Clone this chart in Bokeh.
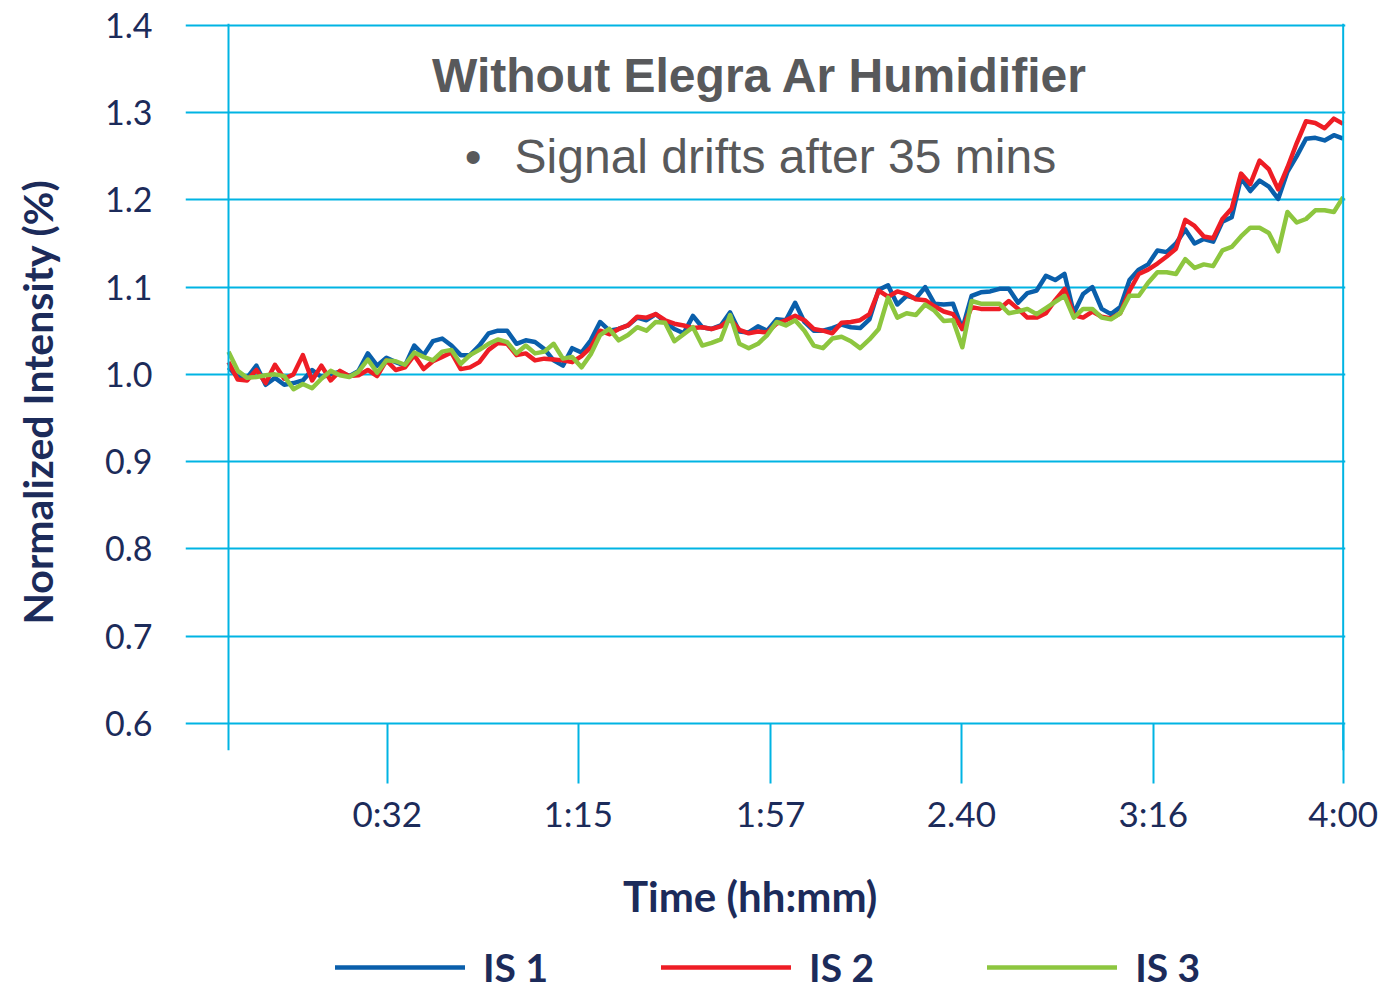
from bokeh.plotting import figure
from bokeh.layouts import column
from bokeh.models import Range1d, FixedTicker, Span, Label, Legend, LegendItem, NumeralTickFormatter
from bokeh.embed import file_html
from bokeh.resources import INLINE

# ---- data (minutes since start, normalized intensity) ----
minutes = list(range(0, 241, 2))

is1 = [1.008, 0.997, 0.996, 1.010, 0.988, 0.996, 0.988, 0.990, 0.993, 1.005,
       0.997, 1.000, 1.003, 0.998, 1.004, 1.024, 1.010, 1.019, 1.014, 1.010,
       1.033, 1.022, 1.038, 1.041, 1.033, 1.022, 1.022, 1.033, 1.047, 1.050,
       1.050, 1.035, 1.039, 1.037, 1.029, 1.016, 1.010, 1.030, 1.025, 1.039,
       1.060, 1.050, 1.052, 1.056, 1.065, 1.062, 1.069, 1.060, 1.052, 1.047,
       1.067, 1.054, 1.052, 1.056, 1.071, 1.049, 1.048, 1.055, 1.050, 1.063,
       1.062, 1.082, 1.060, 1.050, 1.050, 1.053, 1.057, 1.054, 1.053, 1.063,
       1.097, 1.102, 1.080, 1.090, 1.087, 1.100, 1.081, 1.080, 1.081, 1.052,
       1.090, 1.094, 1.095, 1.098, 1.098, 1.082, 1.093, 1.096, 1.113, 1.108,
       1.115, 1.070, 1.092, 1.100, 1.075, 1.069, 1.077, 1.108, 1.120, 1.126,
       1.142, 1.140, 1.150, 1.166, 1.150, 1.155, 1.152, 1.175, 1.180, 1.225,
       1.210, 1.222, 1.215, 1.201, 1.232, 1.250, 1.270, 1.271, 1.268, 1.274,
       1.270]

is2 = [1.014, 0.994, 0.993, 1.005, 0.990, 1.011, 0.995, 1.000, 1.022, 0.993,
       1.010, 0.993, 1.004, 0.998, 0.999, 1.005, 0.998, 1.016, 1.005, 1.008,
       1.022, 1.006, 1.015, 1.020, 1.025, 1.006, 1.008, 1.014, 1.028, 1.036,
       1.035, 1.022, 1.024, 1.016, 1.018, 1.017, 1.016, 1.014, 1.021, 1.031,
       1.050, 1.046, 1.052, 1.056, 1.066, 1.065, 1.069, 1.062, 1.058, 1.056,
       1.053, 1.054, 1.052, 1.055, 1.063, 1.051, 1.047, 1.049, 1.048, 1.058,
       1.062, 1.067, 1.062, 1.052, 1.050, 1.047, 1.059, 1.060, 1.062, 1.069,
       1.096, 1.089, 1.095, 1.092, 1.086, 1.085, 1.078, 1.072, 1.069, 1.052,
       1.077, 1.075, 1.075, 1.075, 1.084, 1.075, 1.065, 1.065, 1.070, 1.085,
       1.098, 1.068, 1.065, 1.072, 1.066, 1.064, 1.070, 1.096, 1.115, 1.120,
       1.127, 1.135, 1.144, 1.177, 1.170, 1.158, 1.156, 1.178, 1.190, 1.230,
       1.218, 1.245, 1.235, 1.212, 1.237, 1.265, 1.290, 1.288, 1.282, 1.293,
       1.287]

is3 = [1.026, 1.004, 0.996, 0.997, 0.999, 1.000, 0.998, 0.983, 0.989, 0.984,
       0.995, 1.004, 0.999, 0.997, 1.003, 1.017, 1.002, 1.016, 1.015, 1.011,
       1.025, 1.020, 1.016, 1.026, 1.028, 1.012, 1.022, 1.028, 1.035, 1.040,
       1.037, 1.024, 1.033, 1.024, 1.026, 1.035, 1.018, 1.020, 1.008, 1.023,
       1.045, 1.052, 1.039, 1.045, 1.054, 1.050, 1.060, 1.059, 1.038, 1.046,
       1.054, 1.033, 1.036, 1.040, 1.068, 1.035, 1.030, 1.035, 1.045, 1.060,
       1.056, 1.062, 1.050, 1.033, 1.030, 1.041, 1.043, 1.038, 1.030, 1.040,
       1.052, 1.088, 1.065, 1.070, 1.068, 1.080, 1.073, 1.061, 1.062, 1.031,
       1.084, 1.081, 1.081, 1.081, 1.070, 1.072, 1.075, 1.069, 1.076, 1.083,
       1.090, 1.065, 1.075, 1.075, 1.065, 1.063, 1.070, 1.090, 1.090, 1.105,
       1.117, 1.117, 1.115, 1.132, 1.122, 1.126, 1.124, 1.142, 1.146, 1.158,
       1.168, 1.168, 1.162, 1.141, 1.186, 1.174, 1.178, 1.188, 1.188, 1.186,
       1.203]

series_names = ["IS 1", "IS 2", "IS 3"]
series_colors = ["#0a5fab", "#ee1d25", "#8dc63f"]
all_series = [is1, is2, is3]

x_tick_positions = [34.2, 75.3, 116.7, 157.8, 199.1, 240]
x_tick_labels = ["0:32", "1:15", "1:57", "2.40", "3:16", "4:00"]
y_ticks = [0.6, 0.7, 0.8, 0.9, 1.0, 1.1, 1.2, 1.3, 1.4]

title_text = "Without Elegra Ar Humidifier"
note_text = "Signal drifts after 35 mins"
NBSP = "\u00a0"

GRID = "#00b4e3"
NAVY = "#1c2b5a"
GRAY = "#58595b"

p = figure(width=1380, height=942, output_backend="svg", toolbar_location=None,
           x_range=Range1d(-9.26, 240.5), y_range=Range1d(0.569, 1.402),
           min_border_left=185, min_border_right=35, min_border_top=23,
           min_border_bottom=192)
p.outline_line_color = None
p.background_fill_color = "white"
p.border_fill_color = "white"

# grid
p.xgrid.visible = False
p.ygrid.ticker = FixedTicker(ticks=y_ticks)
p.ygrid.grid_line_color = GRID
p.ygrid.grid_line_width = 2

# y axis
p.yaxis.ticker = FixedTicker(ticks=y_ticks)
p.yaxis.formatter = NumeralTickFormatter(format="0.0")
p.yaxis.axis_line_color = None
p.yaxis.major_tick_line_color = None
p.yaxis.minor_tick_line_color = None
p.yaxis.major_tick_out = 0
p.yaxis.major_tick_in = 0
p.yaxis.major_label_standoff = 33
p.yaxis.major_label_text_font = "Lato"
p.yaxis.major_label_text_font_size = "34px"
p.yaxis.major_label_text_color = NAVY
p.yaxis.axis_label = "Normalized Intensity (%)" + NBSP * 3
p.yaxis.axis_label_text_font = "Lato"
p.yaxis.axis_label_text_font_style = "bold"
p.yaxis.axis_label_text_font_size = "41px"
p.yaxis.axis_label_text_color = NAVY
p.yaxis.axis_label_standoff = 40

# x axis
p.xaxis.ticker = FixedTicker(ticks=x_tick_positions)
p.xaxis.major_label_overrides = {pos: lab for pos, lab in zip(x_tick_positions, x_tick_labels)}
p.xaxis.axis_line_color = None
p.xaxis.minor_tick_line_color = None
p.xaxis.major_tick_line_color = GRID
p.xaxis.major_tick_line_width = 2
p.xaxis.major_tick_in = 27
p.xaxis.major_tick_out = 33
p.xaxis.major_label_standoff = 8
p.xaxis.major_label_text_font = "Lato"
p.xaxis.major_label_text_font_size = "35px"
p.xaxis.major_label_text_color = NAVY
p.xaxis.axis_label = "Time (hh:mm)" + NBSP * 3
p.xaxis.axis_label_text_font = "Lato"
p.xaxis.axis_label_text_font_style = "bold"
p.xaxis.axis_label_text_font_size = "42px"
p.xaxis.axis_label_text_color = NAVY
p.xaxis.axis_label_standoff = 34

# vertical axis line at t=0 and right border at t=240
p.add_layout(Span(location=0, dimension="height", line_color=GRID, line_width=2))
p.add_layout(Span(location=240, dimension="height", line_color=GRID, line_width=2))

for ys, col in zip(all_series, series_colors):
    p.line(minutes, ys, line_color=col, line_width=4.5, line_join="round")

p.add_layout(Label(x=114.4, y=1.3425, text=title_text, text_align="center",
                   text_baseline="alphabetic", text_font="Liberation Sans",
                   text_font_style="bold", text_font_size="48px", text_color=GRAY))
p.add_layout(Label(x=52.7, y=1.2495, text="\u2022", text_align="center",
                   text_baseline="alphabetic", text_font="Liberation Sans",
                   text_font_size="48px", text_color=GRAY))
p.add_layout(Label(x=61.6, y=1.2495, text=note_text, text_align="left",
                   text_baseline="alphabetic", text_font="Liberation Sans",
                   text_font_size="48px", text_color=GRAY))

# ---- legend strip below the chart (its frame is aligned with the chart's) ----
leg = figure(width=1380, height=48, output_backend="svg", toolbar_location=None,
             x_range=Range1d(-9.26, 240.5), y_range=Range1d(-2, -1),
             x_axis_location=None, y_axis_location=None, min_border=0)
leg.outline_line_color = None
leg.xgrid.visible = False
leg.ygrid.visible = False
items = []
for name, ys, col in zip(series_names, all_series, series_colors):
    # same series, outside this strip's visible range: only the legend swatch shows
    r = leg.line(minutes, ys, line_color=col, line_width=4.5, line_cap="round")
    items.append(LegendItem(label=name, renderers=[r]))
legend = Legend(items=items, orientation="horizontal", location=(150, 0),
                glyph_width=130, glyph_height=36, label_standoff=18, spacing=113,
                label_text_font="Lato", label_text_font_style="bold",
                label_text_font_size="39px", label_text_color=NAVY,
                label_height=36, label_width=64, border_line_color=None,
                background_fill_alpha=0, margin=0, padding=0)
leg.add_layout(legend)

layout = column(p, leg, spacing=0)
open("out.html", "w").write(file_html(layout, INLINE))
